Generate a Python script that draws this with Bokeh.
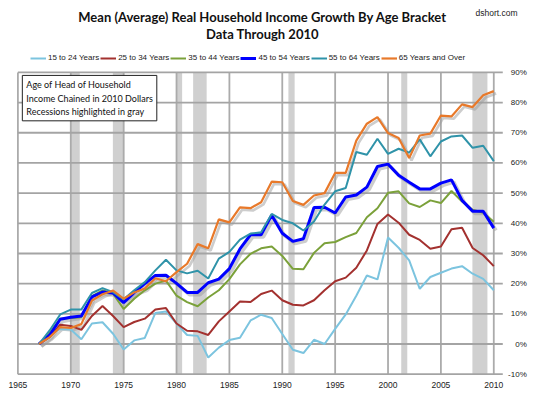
from bokeh.plotting import figure
from bokeh.models import (Range1d, FixedTicker, Legend, LegendItem, Label, ColumnDataSource)
from bokeh.transform import dodge
from bokeh.embed import file_html
from bokeh.resources import INLINE

years = list(range(1967, 2011))

age_15_24 = [0, 3.0, 5.0, 4.8, 1.6, 6.8, 7.2, 3.4, -1.8, 1.2, 2.0, 10.3, 10.8, 6.8, 3.0, 2.7,
             -4.5, -1.2, 1.3, 2.1, 7.8, 9.7, 8.6, 3.3, -1.9, -3.0, 1.4, 0.0, 5.0, 9.8, 16.0,
             22.7, 21.4, 35.3, 31.9, 27.7, 18.3, 22.2, 23.6, 25.0, 25.8, 23.3, 21.6, 17.8]
age_25_34 = [0, 2.3, 6.4, 6.0, 4.7, 9.3, 12.6, 9.3, 5.6, 7.3, 8.4, 11.4, 11.9, 6.8, 4.4, 4.2,
             3.0, 7.5, 10.8, 14.1, 13.9, 16.6, 17.7, 14.5, 13.0, 12.8, 14.5, 17.8, 20.8, 22.0,
             25.3, 31.0, 39.8, 42.9, 40.2, 36.2, 34.5, 31.6, 32.3, 38.0, 38.5, 31.8, 29.4, 25.8]
age_35_44 = [0, 3.6, 8.4, 8.6, 8.9, 15.9, 17.8, 16.7, 11.6, 15.0, 17.8, 20.0, 21.0, 16.0, 13.9,
             12.5, 15.4, 17.8, 21.5, 26.4, 29.9, 31.7, 32.3, 29.2, 24.9, 24.8, 30.2, 33.4, 33.8,
             35.4, 36.8, 42.0, 45.0, 50.1, 50.6, 46.6, 45.4, 47.6, 46.7, 50.7, 47.2, 44.5, 43.5,
             40.5]
age_45_54 = [0, 2.9, 8.2, 8.9, 9.3, 15.6, 17.2, 16.9, 13.7, 17.0, 20.0, 22.7, 22.8, 20.1, 17.1,
             17.1, 20.3, 21.5, 25.0, 31.5, 36.2, 36.2, 42.7, 36.7, 34.0, 34.9, 45.2, 45.3, 43.4,
             48.7, 49.4, 52.0, 58.8, 59.6, 55.9, 53.6, 51.4, 51.4, 53.3, 54.4, 47.6, 44.0, 44.0,
             38.4]
age_55_64 = [0, 4.5, 9.8, 11.4, 11.4, 16.9, 18.5, 17.2, 14.8, 17.8, 20.5, 24.4, 27.9, 24.4, 23.4,
             24.3, 21.7, 28.3, 30.5, 34.6, 36.6, 37.0, 43.1, 41.1, 40.0, 37.6, 40.6, 46.2, 50.6,
             51.7, 63.6, 62.7, 68.0, 63.0, 64.7, 63.4, 67.8, 62.2, 67.1, 68.8, 69.1, 65.0, 65.7,
             60.6]
age_65_up = [0, 2.3, 5.6, 5.3, 6.6, 14.4, 16.5, 17.7, 15.0, 17.1, 18.4, 21.8, 20.8, 23.8, 26.6,
             33.1, 31.7, 41.3, 40.3, 45.3, 45.0, 47.0, 53.8, 53.6, 47.4, 46.1, 49.2, 50.0, 56.7,
             56.7, 67.4, 73.0, 75.2, 69.9, 68.3, 61.6, 69.1, 69.7, 75.7, 75.4, 79.4, 78.5, 82.4,
             83.8]

series_names = ["15 to 24 Years", "25 to 34 Years", "35 to 44 Years",
                "45 to 54 Years", "55 to 64 Years", "65 Years and Over"]
series_values = [age_15_24, age_25_34, age_35_44, age_45_54, age_55_64, age_65_up]
series_colors = ["#7CC4DF", "#A3312F", "#7BA13A", "#0000FF", "#2F93A9", "#E8792A"]
series_widths = [2, 2, 2, 3, 2, 2.2]
series_shadow = [False, False, False, True, False, True]

recession_start = [1969.97, 1973.98, 1980.0, 1981.57, 1990.58, 2001.25, 2007.98]
recession_end = [1970.85, 1975.05, 1980.53, 1982.85, 1991.17, 2001.82, 2009.4]

x_ticks = [1965, 1970, 1975, 1980, 1985, 1990, 1995, 2000, 2005, 2010]
y_ticks = [-10, 0, 10, 20, 30, 40, 50, 60, 70, 80, 90]
y_tick_labels = [f"{t}%" for t in y_ticks]

title_line1 = "Mean (Average) Real Household Income Growth By Age Bracket"
title_line2 = "Data Through 2010"
note_text = "Age of Head of Household\nIncome Chained in 2010 Dollars\nRecessions highlighted in gray"
site_text = "dshort.com"

# ---- geometry (pixels) ----
W, H = 545, 396
BOTTOM = 16
FH = H - BOTTOM                 # frame height; frame spans the full width
PX_X0 = 17.4                    # pixel of 1965 from the left
PX_YR = 10.575                  # pixels per year
PX_Y90 = 71.9                   # pixel of 90% from the top
PX_PCT = 3.018                  # pixels per percentage point

x0 = x_ticks[0] - PX_X0 / PX_YR
x1 = x0 + W / PX_YR
y_hi = y_ticks[-1] + PX_Y90 / PX_PCT
y_lo = y_hi - FH / PX_PCT
x_grid_end = x_ticks[-1] + 9 / PX_YR
x_lab = x_ticks[-1] + 33 / PX_YR

p = figure(width=W, height=H, x_range=Range1d(x0, x1), y_range=Range1d(y_lo, y_hi),
           output_backend="svg", toolbar_location=None, y_axis_location=None,
           min_border_left=0, min_border_right=0, min_border_top=0,
           min_border_bottom=BOTTOM)
p.grid.visible = False
p.outline_line_color = None
p.background_fill_color = "white"
p.border_fill_color = "white"

xa = p.xaxis[0]
xa.ticker = FixedTicker(ticks=x_ticks)
xa.axis_line_color = None
xa.major_tick_line_color = None
xa.major_tick_out = 0
xa.major_tick_in = 0
xa.minor_tick_line_color = None
xa.major_label_text_font = "Liberation Sans"
xa.major_label_text_font_size = "8.5px"
xa.major_label_text_color = "#222222"
xa.major_label_standoff = 1

# recession bands
rec = ColumnDataSource(dict(left=recession_start, right=recession_end))
p.quad(left="left", right="right", top=y_ticks[-1], bottom=y_ticks[0], source=rec,
       fill_color="#d0d0d0", line_color=None)

# grid lines drawn from the tick lists
vg = ColumnDataSource(dict(x=x_ticks))
p.segment(x0="x", y0=y_ticks[0], x1="x", y1=y_ticks[-1], source=vg,
          line_color="#ababab", line_width=1.8)
hg = ColumnDataSource(dict(y=y_ticks))
p.segment(x0=x_ticks[0], y0="y", x1=x_grid_end, y1="y", source=hg,
          line_color="#a4a4a4", line_width=1.8)

# right-hand tick labels
p.text(x=[x_lab] * len(y_ticks), y=y_ticks, text=y_tick_labels, text_align="right",
       text_baseline="middle", text_font_size="8px", text_color="#222222",
       text_font={"value": "Liberation Sans"})

sources = [ColumnDataSource(dict(year=years, v=vals)) for vals in series_values]

for src, w, sh in zip(sources, series_widths, series_shadow):
    if sh:
        p.line(x=dodge("year", 0.22), y=dodge("v", -0.75), source=src,
               line_color="#9c9c9c", line_alpha=0.5, line_width=w + 0.5)

items = []
for name, src, c, w in zip(series_names, sources, series_colors, series_widths):
    r = p.line(x="year", y="v", source=src, line_color=c, line_width=w)
    items.append(LegendItem(label=name, renderers=[r]))

legend = Legend(items=items, orientation="horizontal", location=(30, FH - 62),
                label_text_font="Liberation Sans", label_text_font_size="8px",
                label_text_color="#222222", glyph_width=16, glyph_height=8,
                label_standoff=2, spacing=1, padding=2, margin=0,
                border_line_color=None, background_fill_alpha=0)
p.add_layout(legend, "center")

p.add_layout(Label(x=262, y=FH - 16, x_units="screen", y_units="screen", text=title_line1,
                   text_font="Lato", text_font_size="13px", text_font_style="bold",
                   text_color="#111111", text_align="center", text_baseline="middle"))
p.add_layout(Label(x=262, y=FH - 33, x_units="screen", y_units="screen", text=title_line2,
                   text_font="Lato", text_font_size="13px", text_font_style="bold",
                   text_color="#111111", text_align="center", text_baseline="middle"))
p.add_layout(Label(x=475, y=FH - 12, x_units="screen", y_units="screen", text=site_text,
                   text_font="Liberation Sans", text_font_size="8.5px",
                   text_color="#222222", text_align="left", text_baseline="middle"))

note_shadow = Label(x=1965.42, y=89.0, text=note_text, x_offset=3, y_offset=-3,
                    text_font="Lato", text_font_size="9px", text_alpha=0,
                    text_align="left", text_baseline="top", anchor="top_left",
                    background_fill_color="#999999", background_fill_alpha=0.6,
                    border_line_color=None, padding=4)
note = Label(x=1965.42, y=89.0, text=note_text,
             text_font="Lato", text_font_size="9px", text_color="#111111",
             text_align="left", text_baseline="top", anchor="top_left",
             background_fill_color="white", border_line_color="#222222",
             border_line_width=1, padding=4)
p.add_layout(note_shadow)
p.add_layout(note)

open("out.html", "w").write(file_html(p, INLINE))
